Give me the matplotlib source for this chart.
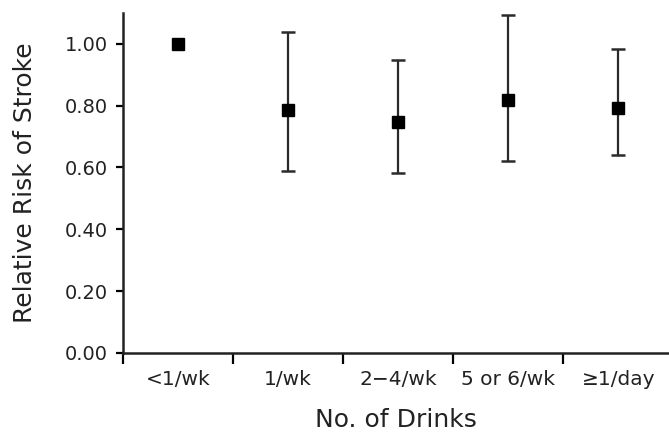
import matplotlib
matplotlib.use("Agg")
import matplotlib.pyplot as plt
import numpy as np

plt.rcParams['font.family'] = ['DejaVu Sans']

categories = ["<1/wk", "1/wk", "2\u22124/wk", "5 or 6/wk", "\u22651/day"]
rel_risk = [1.00, 0.785, 0.746, 0.817, 0.791]
ci_low = [np.nan, 0.588, 0.581, 0.621, 0.641]
ci_high = [np.nan, 1.038, 0.947, 1.092, 0.984]

x = np.arange(len(categories)) + 0.5
rr = np.array(rel_risk)
lo = np.array(ci_low)
hi = np.array(ci_high)
yerr = np.vstack([rr - lo, hi - rr])

fig = plt.figure(figsize=(6.69, 4.33), dpi=100)
ax = fig.add_axes([0.184, 0.185, 0.816, 0.785])

# error bars first, then the squares on top
mask = ~np.isnan(lo)
ax.errorbar(x[mask], rr[mask], yerr=yerr[:, mask], fmt='none', ecolor='#2a2a2a',
            elinewidth=1.6, capsize=4.7, capthick=1.8)
ax.plot(x, rr, 's', color='black', markersize=8.5)

ax.set_xlim(0, 4.96)
ax.set_ylim(0, 1.10)

yt = [0, 0.2, 0.4, 0.6, 0.8, 1.0]
ax.set_yticks(yt)
ax.set_yticklabels(["%.2f" % v for v in yt])

# major ticks at the category boundaries, labels at the centres
ax.set_xticks(np.arange(0, 5))
ax.set_xticklabels([])
ax.set_xticks(x, minor=True)
ax.set_xticklabels(categories, minor=True)
ax.tick_params(axis='x', which='minor', length=0, pad=12, labelsize=14.5, colors='#222222')
ax.tick_params(axis='x', which='major', length=8, width=1.6, direction='out')
ax.tick_params(axis='y', length=5, width=1.6, direction='out', labelsize=14,
               labelcolor='#222222', pad=6)

for s in ['top', 'right']:
    ax.spines[s].set_visible(False)
for s in ['left', 'bottom']:
    ax.spines[s].set_linewidth(1.8)
    ax.spines[s].set_color('#222222')

ax.set_xlabel("No. of Drinks", fontsize=18, color='#222222', labelpad=14)
ax.set_ylabel("Relative Risk of Stroke", fontsize=18, color='#222222', labelpad=20)

fig.savefig("out.png", dpi=100)
